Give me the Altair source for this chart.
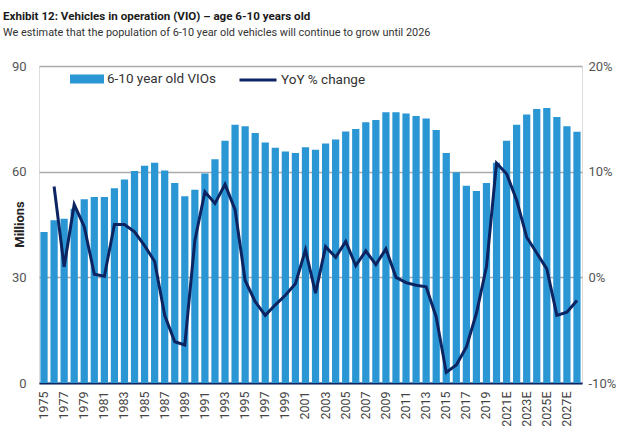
import altair as alt
import pandas as pd

years = [str(y) for y in range(1975, 2021)] + [f"{y}E" for y in range(2021, 2029)]
vio = [42.9, 46.2, 46.6, 49.5, 52.2, 52.8, 52.8, 55.3, 57.8, 60.2,
       61.7, 62.5, 60.3, 56.8, 53.0, 54.9, 59.5, 63.5, 68.8, 73.3,
       72.9, 71.0, 68.3, 66.8, 65.7, 65.3, 66.9, 66.2, 68.0, 69.1,
       71.4, 72.1, 74.0, 74.7, 76.9, 76.9, 76.5, 75.8, 75.1, 71.8,
       65.3, 59.8, 56.0, 54.5, 56.8, 62.5, 68.8, 73.3, 76.2, 77.8,
       78.1, 75.5, 72.9, 71.3]
yoy = [None, 8.6, 1.0, 6.9, 4.8, 0.3, 0.1, 5.0, 5.0, 4.3,
       3.0, 1.5, -3.6, -6.1, -6.4, 3.5, 8.1, 7.0, 8.8, 6.4,
       -0.3, -2.3, -3.6, -2.6, -1.7, -0.6, 2.6, -1.5, 2.9, 1.9,
       3.4, 1.1, 2.5, 1.2, 2.7, 0.0, -0.5, -0.75, -0.9, -3.75,
       -9.0, -8.3, -6.6, -3.4, 1.0, 10.8, 9.8, 7.3, 3.8, 2.3,
       0.8, -3.6, -3.3, -2.2]
tick_years = years[::2]
bar_name = "6-10 year old VIOs"
line_name = "YoY % change"

df = pd.DataFrame({"year": years, "vio": vio, "yoy": yoy,
                   "s1": [bar_name] * len(years), "s2": [line_name] * len(years)})

FONT = "Roboto"
BAR = "#2A96D4"
NAVY = "#0C2461"

base = alt.Chart(df)

xenc = alt.X("year:N", sort=years,
             scale=alt.Scale(paddingInner=0.28, paddingOuter=0.14),
             axis=alt.Axis(title=None, values=tick_years, labelAngle=270,
                           labelAlign="right", labelBaseline="middle",
                           labelPadding=8, ticks=False, domainColor=NAVY,
                           domainWidth=2, labelFont=FONT, labelFontSize=12.5,
                           labelColor="#444444"))

bars = base.mark_bar().encode(
    x=xenc,
    y=alt.Y("vio:Q", scale=alt.Scale(domain=[0, 90]),
            axis=alt.Axis(values=[0, 30, 60, 90], title="Millions", orient="left",
                          domain=False, ticks=False, labelPadding=13,
                          gridColor="#aaaaaa", gridWidth=1.5, zindex=0,
                          labelFont=FONT, labelFontSize=13, labelColor="#555555",
                          titleFont=FONT, titleFontSize=13, titleFontWeight="bold",
                          titleColor="#222222", titleX=-13, titleY=158,
                          titleAnchor="middle")),
    fill=alt.Fill("s1:N", scale=alt.Scale(domain=[bar_name], range=[BAR]),
                  legend=alt.Legend(title=None, orient="none", legendX=31, legendY=-4,
                                    symbolType="M-1,-0.26L1,-0.26L1,0.26L-1,0.26Z",
                                    symbolSize=1156, symbolStrokeWidth=0,
                                    labelFont=FONT, labelFontSize=13.5,
                                    labelColor="#333333", labelOffset=3, padding=0)),
)

line = base.mark_line(strokeWidth=3).encode(
    x=alt.X("year:N", sort=years),
    y=alt.Y("yoy:Q", scale=alt.Scale(domain=[-10, 20]),
            axis=alt.Axis(values=[-10, 0, 10, 20], orient="right", title=None,
                          labelExpr="datum.value + '%'", domain=False, ticks=False,
                          labelPadding=6, gridColor="#c8d8e8", gridOpacity=0.6,
                          gridWidth=1.5, zindex=1,
                          labelFont=FONT, labelFontSize=13, labelColor="#555555")),
    stroke=alt.Stroke("s2:N", scale=alt.Scale(domain=[line_name], range=[NAVY]),
                      legend=alt.Legend(title=None, orient="none", legendX=199, legendY=-6,
                                        symbolType="stroke", symbolSize=1369,
                                        symbolStrokeWidth=3,
                                        labelFont=FONT, labelFontSize=13.5,
                                        labelColor="#333333", labelOffset=3, padding=0)),
)

chart = alt.layer(bars, line).resolve_scale(y="independent").properties(
    width=543, height=317,
    autosize=alt.AutoSizeParams(type="none"),
    padding={"left": 39, "top": 66, "right": 58, "bottom": 51},
    title=alt.TitleParams(
        text="Exhibit 12: Vehicles in operation (VIO) \u2013 age 6-10 years old",
        subtitle="We estimate that the population of 6-10 year old vehicles will continue to grow until 2026",
        anchor="start", frame="group", dx=-36, offset=22,
        font=FONT, fontSize=11.6, fontWeight="bold", color="#1a1a1a",
        subtitleFont=FONT, subtitleFontSize=10.9, subtitleColor="#333333",
        subtitlePadding=5),
).configure_view(stroke=None).configure(background="white")

chart.save("out.html", embed_options={"renderer": "svg", "actions": False})
